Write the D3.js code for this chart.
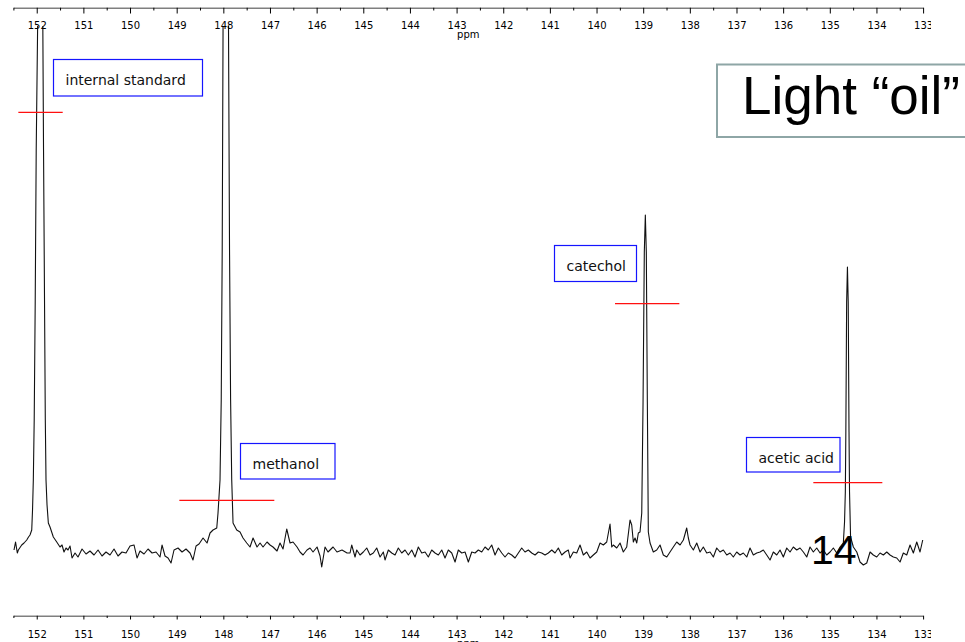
<!DOCTYPE html>
<html>
<head>
<meta charset="utf-8">
<script src="https://cdn.jsdelivr.net/npm/d3@7"></script>
<style>
  html, body { margin: 0; padding: 0; background: #fff; }
  svg { display: block; }
</style>
</head>
<body>
<svg id="chart" width="965" height="642"></svg>
<script>
// ---------------- DATA ----------------
const majorTicks = [152,151,150,149,148,147,146,145,144,143,142,141,140,139,138,137,136,135,134,133];
const minorTicks = [152.5,151.5,150.5,149.5,148.5,147.5,146.5,145.5,144.5,143.5,142.5,141.5,140.5,139.5,138.5,137.5,136.5,135.5,134.5,133.5];
const axisUnit = "ppm";
const title = "Light \u201coil\u201d";
const slideNumber = "14";

const peakNames = ["internal standard", "methanol", "catechol", "acetic acid"];
const peakPpm   = [151.925, 147.946, 138.954, 134.622];
// integral marks: [start ppm, end ppm, level (a.u.)]
const integralStart = [152.394, 148.943, 139.604, 135.353];
const integralEnd   = [151.443, 146.907, 138.225, 133.874];
const integralLevel = [439.7, 51.7, 248.3, 69.3];

// spectrum: [ppm, intensity a.u.]
const spectrum = [
[152.487,2],[152.454,10],[152.416,-1],[152.394,2],[152.322,7],[152.272,9],[152.214,12],[152.176,15],
[152.144,17],[152.107,22],[152.090,42],[152.073,72],[152.054,132],[152.032,252],[152.011,402],[151.981,524],
[151.968,652],[151.925,1200],[151.882,652],[151.869,524],[151.854,402],[151.833,252],[151.816,132],[151.801,72],
[151.779,47],[151.751,29],[151.715,25],[151.644,15],[151.571,10],[151.501,5],[151.458,7],[151.415,0],
[151.372,4],[151.329,2],[151.286,6],[151.243,-6],[151.179,-1],[151.115,-5],[151.029,3],[150.943,-2],
[150.858,1],[150.772,-3],[150.686,2],[150.600,-4],[150.515,0],[150.429,-3],[150.343,3],[150.257,-4],
[150.172,0],[150.086,-1],[150.000,6],[149.914,7],[149.850,-6],[149.786,1],[149.700,-2],[149.614,3],
[149.528,-1],[149.443,0],[149.357,-5],[149.314,7],[149.250,-4],[149.185,-6],[149.121,-11],[149.057,2],
[148.971,4],[148.885,0],[148.800,3],[148.714,-1],[148.650,-8],[148.585,6],[148.521,8],[148.435,14],
[148.349,9],[148.285,19],[148.221,22],[148.141,24],[148.114,39],[148.071,72],[148.045,152],[148.024,302],
[148.006,524],[147.994,652],[147.946,1200],[147.899,652],[147.889,524],[147.867,302],[147.844,152],[147.820,72],
[147.792,29],[147.713,22],[147.642,20],[147.578,14],[147.498,9],[147.428,5],[147.363,14],[147.278,5],
[147.213,9],[147.149,5],[147.063,10],[146.999,7],[146.935,5],[146.849,1],[146.785,9],[146.720,3],
[146.641,23],[146.570,9],[146.506,10],[146.420,5],[146.356,0],[146.292,-3],[146.206,2],[146.142,4],
[146.077,0],[145.991,5],[145.927,-4],[145.891,-15],[145.820,5],[145.756,0],[145.648,5],[145.563,0],
[145.456,2],[145.348,-1],[145.284,-1],[145.248,7],[145.177,-5],[145.140,2],[145.070,-3],[144.999,0],
[144.926,4],[144.855,-3],[144.785,-1],[144.712,4],[144.641,-5],[144.570,0],[144.534,-8],[144.463,2],
[144.390,-1],[144.319,-3],[144.249,4],[144.176,-1],[144.105,2],[144.034,-3],[143.961,2],[143.891,-5],
[143.820,5],[143.747,-1],[143.676,0],[143.606,-5],[143.533,2],[143.462,-1],[143.391,-3],[143.318,2],
[143.248,-6],[143.177,2],[143.104,-1],[143.033,-10],[142.963,2],[142.890,-1],[142.819,0],[142.748,-10],
[142.675,0],[142.605,-1],[142.534,2],[142.461,0],[142.390,5],[142.320,2],[142.247,7],[142.176,-3],
[142.105,4],[142.032,-1],[141.962,-5],[141.891,-1],[141.818,-3],[141.747,-6],[141.676,-1],[141.604,4],
[141.533,0],[141.462,2],[141.389,-1],[141.318,-3],[141.248,0],[141.175,-1],[141.104,-3],[141.033,-1],
[140.960,2],[140.890,-1],[140.819,4],[140.746,-3],[140.675,0],[140.605,2],[140.568,-6],[140.497,0],
[140.425,-1],[140.354,7],[140.283,-3],[140.210,0],[140.139,-6],[140.069,-3],[139.996,0],[139.925,9],
[139.854,7],[139.782,10],[139.711,28],[139.674,5],[139.640,7],[139.567,4],[139.496,9],[139.426,0],
[139.353,5],[139.282,32],[139.246,27],[139.211,10],[139.175,14],[139.138,9],[139.104,19],[139.068,20],
[139.031,39],[139.003,150],[138.976,300],[138.954,337],[138.933,300],[138.911,150],[138.890,20],[138.853,9],
[138.783,0],[138.710,2],[138.639,7],[138.568,-3],[138.495,-5],[138.425,0],[138.354,5],[138.281,10],
[138.210,7],[138.139,12],[138.067,24],[138.032,14],[137.996,7],[137.925,2],[137.852,9],[137.781,0],
[137.711,5],[137.638,-1],[137.567,0],[137.496,-5],[137.424,4],[137.353,0],[137.282,2],[137.209,-3],
[137.138,-1],[137.068,-5],[136.995,0],[136.924,-3],[136.853,-1],[136.780,-5],[136.710,4],[136.639,-3],
[136.566,-1],[136.495,0],[136.425,2],[136.352,-3],[136.281,-8],[136.210,0],[136.137,-3],[136.067,2],
[135.996,-5],[135.923,4],[135.852,0],[135.782,5],[135.709,2],[135.638,4],[135.567,0],[135.494,-5],
[135.424,5],[135.353,0],[135.280,4],[135.209,-1],[135.138,2],[135.066,-3],[134.995,0],[134.924,4],
[134.851,-1],[134.780,5],[134.710,9],[134.684,30],[134.667,60],[134.656,120],[134.639,250],[134.622,285],
[134.605,250],[134.588,120],[134.577,60],[134.555,15],[134.495,5],[134.422,0],[134.352,-10],[134.281,-13],
[134.208,-11],[134.137,0],[134.067,-3],[133.994,-5],[133.923,-1],[133.852,-3],[133.779,0],[133.709,-3],
[133.638,-5],[133.565,-6],[133.494,-10],[133.424,-1],[133.351,-3],[133.280,7],[133.209,-1],[133.136,10],
[133.066,0],[133.008,12]
];

// ---------------- LAYOUT ----------------
const svg = d3.select("#chart");
const FONT = "'DejaVu Sans', Verdana, sans-serif";

const x = d3.scaleLinear().domain([152.5, 133]).range([13.4, 923.1]);
const y = d3.scaleLinear().domain([0, 337]).range([552, 215]);

const defs = svg.append("defs");
defs.append("clipPath").attr("id", "plotClip")
  .append("rect").attr("x", 0).attr("y", 26).attr("width", 965).attr("height", 600);
defs.append("clipPath").attr("id", "labelClip")
  .append("rect").attr("x", 0).attr("y", 0).attr("width", 931).attr("height", 642);

// spectrum line
const line = d3.line().x(d => x(d[0])).y(d => y(d[1]));
svg.append("g").attr("clip-path", "url(#plotClip)")
  .append("path")
  .datum(spectrum)
  .attr("d", line)
  .attr("fill", "none")
  .attr("stroke", "#111")
  .attr("stroke-width", 1.1)
  .attr("stroke-linejoin", "round");

// axes
function drawAxis(yPos, majorLen, minorLen, pad) {
  const g = svg.append("g").attr("transform", `translate(0,${yPos})`).attr("clip-path", "url(#labelClip)");
  const gMinor = g.append("g").call(
    d3.axisBottom(x).tickValues(minorTicks).tickSizeInner(minorLen).tickSizeOuter(0).tickFormat(""));
  gMinor.select(".domain").remove();
  const gMajor = g.append("g").call(
    d3.axisBottom(x).tickValues(majorTicks).tickSizeInner(majorLen).tickSizeOuter(0).tickPadding(pad)
      .tickFormat(d3.format("d")));
  g.selectAll("line, path").attr("stroke", "#000").attr("stroke-width", 1);
  g.selectAll("text").attr("font-family", FONT).attr("font-size", 10).attr("fill", "#000");
  return g;
}
drawAxis(7.5, 6, 3, 8);
drawAxis(615.5, 4, 2.5, 11);

svg.append("text").attr("x", x(143) + 0.5).attr("y", 37.5)
  .attr("font-family", FONT).attr("font-size", 10).text(axisUnit);
svg.append("text").attr("x", x(143) + 0.5).attr("y", 646.5)
  .attr("font-family", FONT).attr("font-size", 10).text(axisUnit);

// integral marks (red)
svg.append("g").selectAll("line")
  .data(integralStart.map((s, i) => [s, integralEnd[i], integralLevel[i]]))
  .join("line")
  .attr("x1", d => x(d[0])).attr("x2", d => x(d[1]))
  .attr("y1", d => y(d[2])).attr("y2", d => y(d[2]))
  .attr("stroke", "#ff1010").attr("stroke-width", 1.2);

// peak label boxes (annotation layout)
const boxes = [
  {x: 53.5, y: 59.5, w: 149, h: 36.5},
  {x: 240.5, y: 443.5, w: 94.5, h: 35.5},
  {x: 554.5, y: 245.5, w: 82, h: 36},
  {x: 746.5, y: 437.5, w: 93.5, h: 34.5}
];
const lab = svg.append("g").selectAll("g").data(peakNames).join("g")
  .attr("transform", (d, i) => `translate(${boxes[i].x},${boxes[i].y})`);
lab.append("rect")
  .attr("width", (d, i) => boxes[i].w).attr("height", (d, i) => boxes[i].h)
  .attr("fill", "#fff").attr("stroke", "#1515ff").attr("stroke-width", 1.2);
lab.append("text")
  .attr("x", 12).attr("y", 25.3)
  .attr("font-family", FONT).attr("font-size", 14).attr("fill", "#111")
  .text(d => d);

// title box
svg.append("rect").attr("x", 717).attr("y", 64.5).attr("width", 260).attr("height", 72.5)
  .attr("fill", "#fff").attr("stroke", "#8ea6a6").attr("stroke-width", 2);
svg.append("text").attr("x", 742).attr("y", 113.5)
  .attr("font-family", "'Liberation Sans', Arial, sans-serif").attr("font-size", 53).attr("fill", "#000")
  .text(title);

// slide number
svg.append("text").attr("x", 811).attr("y", 563.5)
  .attr("font-family", "'Liberation Sans', Arial, sans-serif").attr("font-size", 41).attr("fill", "#000")
  .text(slideNumber);
</script>
</body>
</html>
